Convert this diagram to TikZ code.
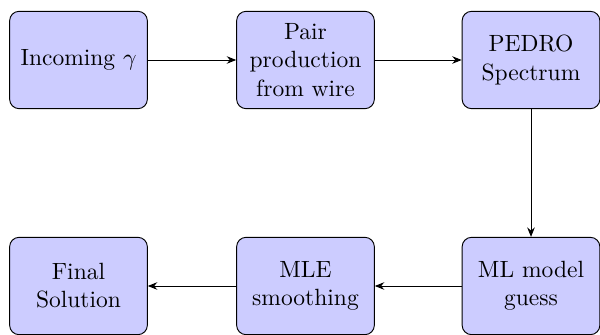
\documentclass[tikz,border=0pt]{standalone}
\usetikzlibrary{arrows.meta}
\begin{document}
\begin{tikzpicture}[x=0.4255pt,y=-0.4255pt,
  box/.style={draw, rounded corners=4pt, fill=blue!20, minimum width=58.6pt, minimum height=41.4pt, align=center, inner sep=2pt},
  arr/.style={-{Stealth[length=4pt,width=3.2pt]}}]
\useasboundingbox (0,0) rectangle (600,335);
\node[box] (a) at (78.5,60) {Incoming $\gamma$};
\node[box] (b) at (305.5,60) {Pair\\production\\from wire};
\node[box] (c) at (531,60) {PEDRO\\Spectrum};
\node[box] (d) at (531,286) {ML model\\guess};
\node[box] (e) at (305.5,286) {MLE\\smoothing};
\node[box] (f) at (78.5,286) {Final\\Solution};
\draw[arr] (a) -- (b);
\draw[arr] (b) -- (c);
\draw[arr] (c) -- (d);
\draw[arr] (d) -- (e);
\draw[arr] (e) -- (f);
\end{tikzpicture}
\end{document}
